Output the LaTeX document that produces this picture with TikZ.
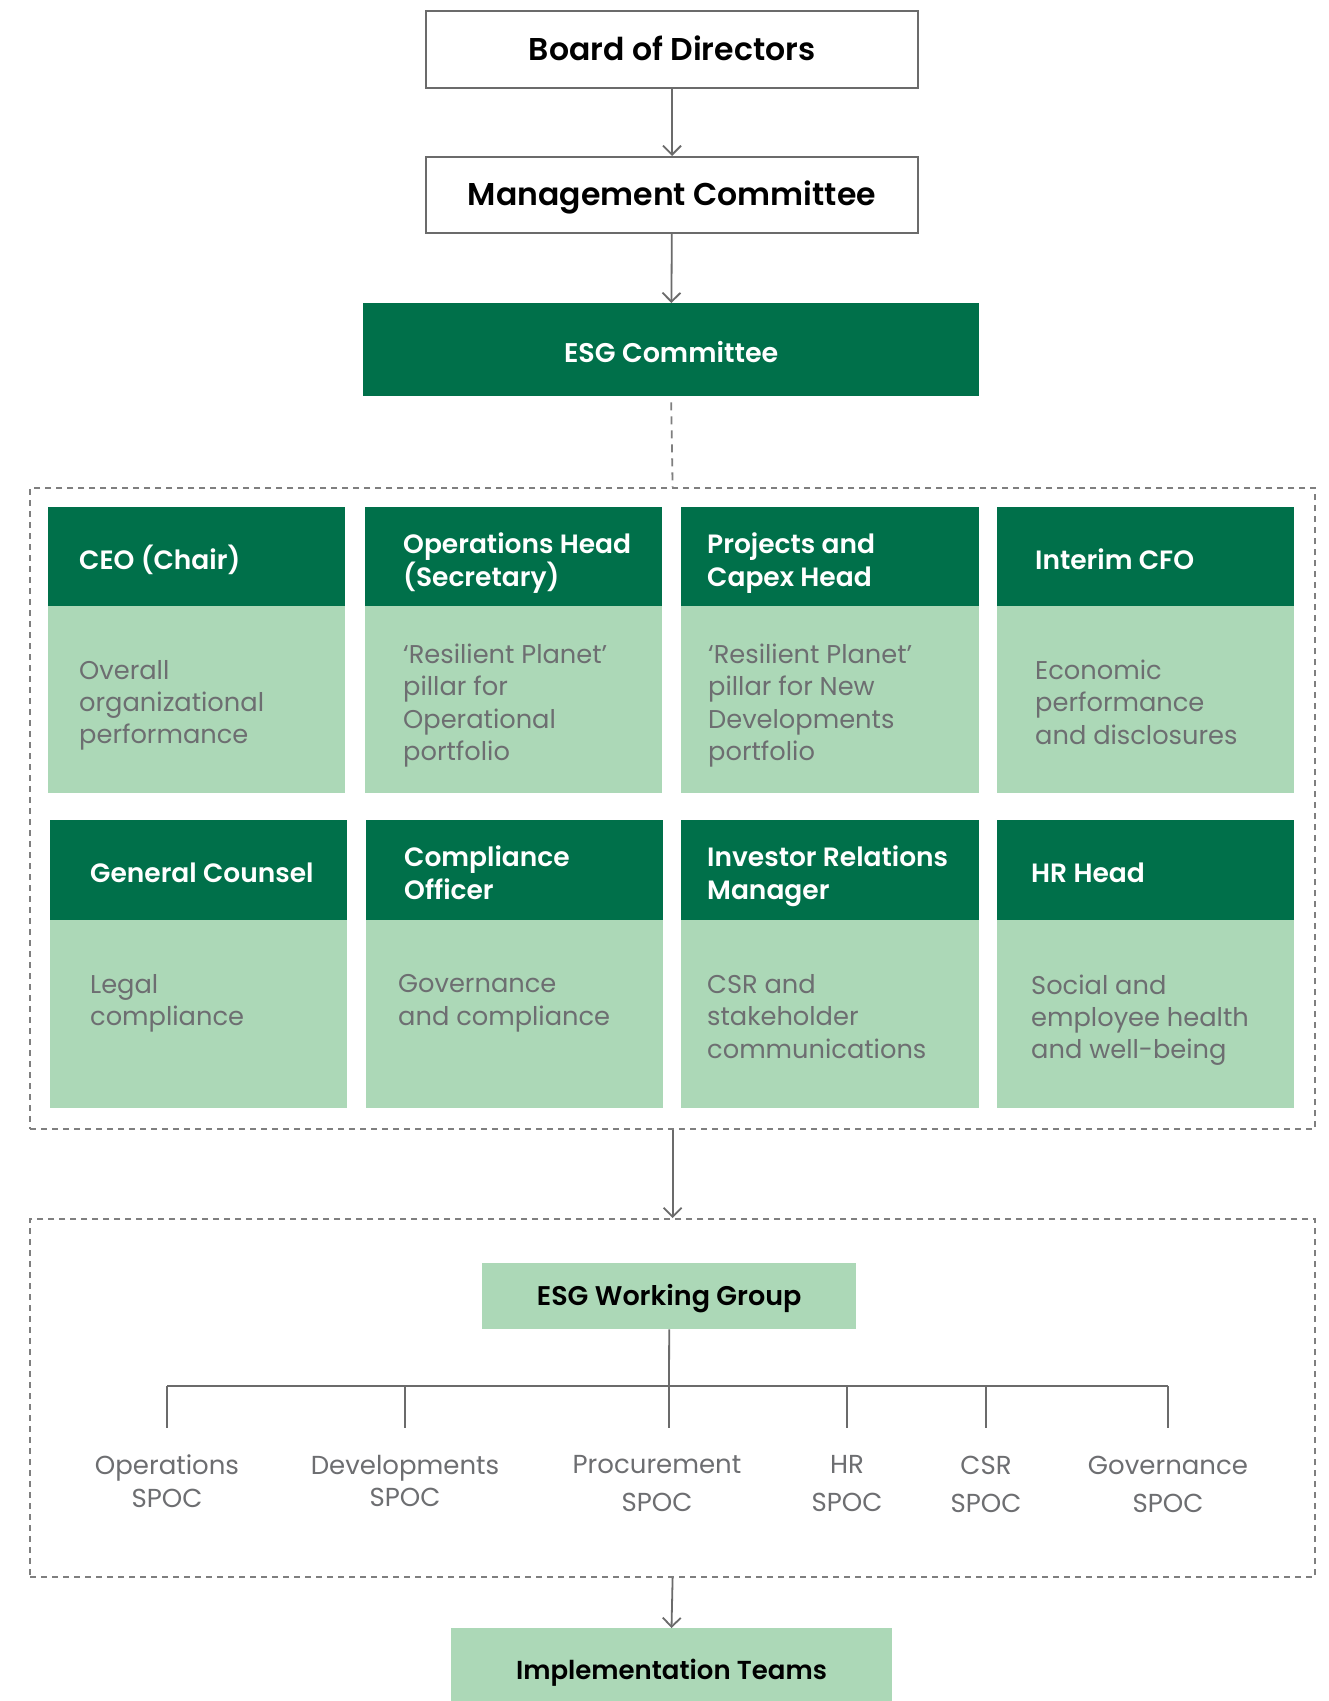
\documentclass[tikz,border=0pt]{standalone}
\usepackage{fontspec}
\setmainfont{Poppins}[BoldFont={Poppins SemiBold}]
\usetikzlibrary{arrows.meta}
\definecolor{dgreen}{HTML}{00704A}
\definecolor{lgreen}{HTML}{ACD8B7}
\definecolor{txtgray}{HTML}{6D6E71}
\definecolor{linegray}{HTML}{6B6B6B}
\definecolor{dashgray}{HTML}{7F7F7F}
\tikzset{
  capc/.style={text height=#1, text depth=0pt},
  topbox/.style={draw=linegray, line width=2pt, fill=white, inner sep=0pt, anchor=north west, capc=21.7pt, font=\bfseries\fontsize{31.5}{36}\selectfont},
  greenhead/.style={fill=dgreen, draw=none, inner sep=0pt, anchor=north west},
  greenbody/.style={fill=lgreen, draw=none, inner sep=0pt, anchor=north west},
  headone/.style={anchor=west, text=white, inner sep=0pt, capc=18.5pt, font=\bfseries\fontsize{26.5}{32.6}\selectfont},
  headtxt/.style={anchor=north west, align=left, text=white, inner sep=0pt, font=\bfseries\fontsize{26.5}{32.6}\selectfont, execute at begin node={\rule{0pt}{0.8em}}},
  bodytxt/.style={anchor=north west, align=left, text=txtgray, inner sep=0pt, font=\fontsize{25.7}{32.2}\selectfont, execute at begin node={\rule{0pt}{0.8em}}},
  spoc/.style={align=center, text=txtgray, inner sep=0pt, font=\fontsize{26}{32.5}\selectfont},
  conn/.style={draw=linegray, line width=1.8pt},
  arr/.style={conn, -{Straight Barb[length=9pt, width=18pt]}},
  dashbox/.style={draw=dashgray, line width=2.2pt, dash pattern=on 6pt off 5pt, inner sep=0pt, anchor=north west},
  dashline/.style={draw=dashgray, line width=1.8pt, dash pattern=on 8pt off 6pt},
}
\begin{document}
\begin{tikzpicture}[x=1pt,y=-1pt]
\useasboundingbox (0,0) rectangle (1329,1701);
\clip (0,0) rectangle (1329,1701);
\fill[white] (0,0) rectangle (1329,1701);

% top boxes
\node[topbox, minimum width=492, minimum height=77] (bod) at (425,10) {Board of Directors};
\node[topbox, minimum width=492, minimum height=76] (mc) at (425,156) {Management Committee};
\node[greenhead, minimum width=616, minimum height=93, text=white, capc=24.9pt, font=\bfseries\fontsize{27}{32}\selectfont] (esg) at (363,303) {ESG Committee};

\draw[arr] (bod) -- (mc);
\draw[arr] (mc) -- (esg);

% group 1
\node[dashbox, minimum width=1285, minimum height=641] (grp1) at (29,487) {};
\draw[dashline] ([yshift=-6pt]esg.south) -- (grp1.north);

% row 1
\node[greenhead, minimum width=297, minimum height=99] (h1) at (48,507) {};
\node[greenbody, minimum width=297, minimum height=187] (b1) at (48,606) {};
\node[greenhead, minimum width=297, minimum height=99] (h2) at (365,507) {};
\node[greenbody, minimum width=297, minimum height=187] (b2) at (365,606) {};
\node[greenhead, minimum width=298, minimum height=99] (h3) at (681,507) {};
\node[greenbody, minimum width=298, minimum height=187] (b3) at (681,606) {};
\node[greenhead, minimum width=297, minimum height=99] (h4) at (997,507) {};
\node[greenbody, minimum width=297, minimum height=187] (b4) at (997,606) {};

\node[headone] (t1) at (79,559.8) {CEO (Chair)};
\node[headtxt] (t2) at (403,532.5) {Operations Head\\(Secretary)};
\node[headtxt] (t3) at (707,532.5) {Projects and\\Capex Head};
\node[headone] (t4) at (1035,559.8) {Interim CFO};

\node[bodytxt] (d1) at (79,660) {Overall\\organizational\\performance};
\node[bodytxt] (d2) at (403,644) {‘Resilient Planet’\\pillar for\\Operational\\portfolio};
\node[bodytxt] (d3) at (708,644) {‘Resilient Planet’\\pillar for New\\Developments\\portfolio};
\node[bodytxt] (d4) at (1035,660) {Economic\\performance\\and disclosures};

% row 2
\node[greenhead, minimum width=297, minimum height=100] (h5) at (50,820) {};
\node[greenbody, minimum width=297, minimum height=188] (b5) at (50,920) {};
\node[greenhead, minimum width=297, minimum height=100] (h6) at (366,820) {};
\node[greenbody, minimum width=297, minimum height=188] (b6) at (366,920) {};
\node[greenhead, minimum width=298, minimum height=100] (h7) at (681,820) {};
\node[greenbody, minimum width=298, minimum height=188] (b7) at (681,920) {};
\node[greenhead, minimum width=297, minimum height=100] (h8) at (997,820) {};
\node[greenbody, minimum width=297, minimum height=188] (b8) at (997,920) {};

\node[headone] (t5) at (90,873.3) {General Counsel};
\node[headtxt] (t6) at (404,846) {Compliance\\Officer};
\node[headtxt] (t7) at (707,846) {Investor Relations\\Manager};
\node[headone] (t8) at (1031,873.3) {HR Head};

\node[bodytxt] (d5) at (90,974.5) {Legal\\compliance};
\node[bodytxt] (d6) at (398,974.5) {Governance\\and compliance};
\node[bodytxt] (d7) at (707,974.5) {CSR and\\stakeholder\\communications};
\node[bodytxt] (d8) at (1031,974.5) {Social and\\employee health\\and well-being};

% group 2
\node[dashbox, minimum width=1285, minimum height=358] (grp2) at (29,1218) {};
\draw[arr] (grp1.south) -- (grp2.north);

\node[greenbody, minimum width=374, minimum height=66, capc=18.9pt, font=\bfseries\fontsize{27}{32}\selectfont] (wg) at (482,1263) {ESG Working Group};

\coordinate (bus) at (669,1386);
\coordinate (busL) at (167,1386);
\coordinate (busR) at (1168,1386);
\draw[conn] (wg.south) -- (bus);
\draw[conn] (busL) -- (busR);

\foreach \i/\x in {1/167,2/405,3/669,4/847,5/986,6/1168}{
  \coordinate (j\i) at (\x,1386);
  \coordinate (e\i) at (\x,1428);
  \draw[conn] (j\i) -- (e\i);
}

\node[spoc] (s1) at (167,1481) {Operations\\SPOC};
\node[spoc] (s2) at (405,1481) {Developments\\SPOC};
\node[spoc] (s3) at (657,1484) {Procurement\\[5.5pt]SPOC};
\node[spoc] (s4) at (847,1484) {HR\\[5.5pt]SPOC};
\node[spoc] (s5) at (986,1484) {CSR\\[5.5pt]SPOC};
\node[spoc] (s6) at (1168,1484) {Governance\\[5.5pt]SPOC};

\node[greenbody, anchor=north, minimum width=441, minimum height=84, capc=18.2pt, font=\bfseries\fontsize{26}{32}\selectfont] (impl) at (671.5,1628) {Implementation Teams};
\draw[arr] (grp2.south) -- (impl.north);
\end{tikzpicture}
\end{document}
